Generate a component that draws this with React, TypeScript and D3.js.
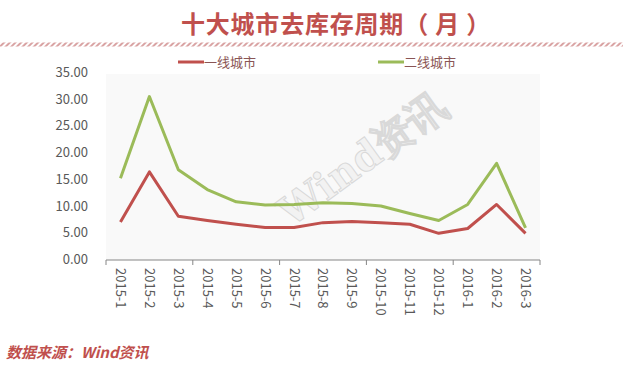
import React, { useRef, useEffect } from "react";
import * as d3 from "d3";

// data
const months = [
  "2015-1", "2015-2", "2015-3", "2015-4", "2015-5", "2015-6", "2015-7",
  "2015-8", "2015-9", "2015-10", "2015-11", "2015-12", "2016-1", "2016-2", "2016-3",
];
const tier1 = [7.0, 16.4, 8.1, 7.3, 6.6, 6.0, 6.0, 6.9, 7.1, 6.9, 6.6, 4.9, 5.8, 10.3, 4.9];
const tier2 = [15.2, 30.5, 16.8, 13.1, 10.8, 10.2, 10.3, 10.6, 10.5, 10.0, 8.6, 7.3, 10.3, 18.0, 5.9];
const yTicks = [0, 5, 10, 15, 20, 25, 30, 35];
const seriesNames = ["一线城市", "二线城市"];
const colors = ["#c0504d", "#9bbb59"];

const W = 623;
const H = 369;
const font = "'Noto Sans CJK SC', 'Noto Sans', sans-serif";

function Chart() {
  const svgRef = useRef<SVGSVGElement>(null);

  useEffect(() => {
    const svg = d3.select(svgRef.current);
    svg.selectAll("*").remove();

    // scales
    const x = d3.scaleBand().domain(months).range([106, 540]);
    const y = d3.scaleLinear().domain([0, 35]).range([259.5, 72.5]);

    // hatch pattern for the title rule
    const defs = svg.append("defs");
    const pat = defs
      .append("pattern")
      .attr("id", "hatch")
      .attr("width", 4)
      .attr("height", 4)
      .attr("patternUnits", "userSpaceOnUse")
      .attr("patternTransform", "rotate(45)");
    pat.append("rect").attr("width", 2).attr("height", 4).attr("fill", "#d9a3a3");

    // title
    svg
      .append("text")
      .attr("x", 336)
      .attr("y", 33)
      .attr("text-anchor", "middle")
      .attr("font-family", font)
      .attr("font-size", 24)
      .attr("font-weight", "bold")
      .attr("letter-spacing", 0.8)
      .attr("fill", "#c0504d")
      .text("十大城市去库存周期（ 月 ）");

    svg.append("rect").attr("x", 0).attr("y", 42.5).attr("width", W).attr("height", 4).attr("fill", "url(#hatch)");

    // legend
    const legendX = [178, 378];
    seriesNames.forEach((name, i) => {
      svg
        .append("line")
        .attr("x1", legendX[i])
        .attr("x2", legendX[i] + 26)
        .attr("y1", 62)
        .attr("y2", 62)
        .attr("stroke", colors[i])
        .attr("stroke-width", 3);
      svg
        .append("text")
        .attr("x", legendX[i] + 26)
        .attr("y", 66.5)
        .attr("font-family", font)
        .attr("font-size", 13)
        .attr("fill", "#8a5555")
        .text(name);
    });

    // plot background
    svg
      .append("rect")
      .attr("x", 106)
      .attr("y", 74)
      .attr("width", 434)
      .attr("height", 186)
      .attr("fill", "#f9f9f9");

    // watermark
    const wm = svg
      .append("text")
      .attr("transform", "translate(362,158) rotate(-36)")
      .attr("text-anchor", "middle")
      .attr("dominant-baseline", "central")
      .attr("font-family", "'DejaVu Serif', serif")
      .attr("font-size", 40)
      .attr("font-weight", "bold")
      .attr("fill", "#f2f2f2")
      .attr("stroke", "#d9d9d9")
      .attr("stroke-width", 1)
      .text("Wind资讯");
    wm.clone(true).attr("transform", "translate(364,160) rotate(-36)").attr("fill", "none").attr("stroke", "#e8e8e8").lower();

    // y axis labels
    svg
      .selectAll(".ylab")
      .data(yTicks)
      .join("text")
      .attr("class", "ylab")
      .attr("x", 88)
      .attr("y", (d) => y(d))
      .attr("dy", "0.35em")
      .attr("text-anchor", "end")
      .attr("font-family", font)
      .attr("font-size", 13)
      .attr("fill", "#595959")
      .text((d) => d.toFixed(2));

    // x axis
    svg
      .append("line")
      .attr("x1", 106)
      .attr("x2", 540)
      .attr("y1", 260)
      .attr("y2", 260)
      .attr("stroke", "#868686");
    const bw = x.bandwidth();
    const tickIdx = d3.range(0, months.length + 1, 3);
    svg
      .selectAll(".xtick")
      .data(tickIdx)
      .join("line")
      .attr("x1", (i) => 106 + i * bw)
      .attr("x2", (i) => 106 + i * bw)
      .attr("y1", 260)
      .attr("y2", 265)
      .attr("stroke", "#868686");

    svg
      .selectAll(".xlab")
      .data(months)
      .join("text")
      .attr("class", "xlab")
      .attr("transform", (d) => `translate(${x(d)! + bw / 2},268) rotate(90)`)
      .attr("dy", "0.35em")
      .attr("font-family", font)
      .attr("font-size", 13)
      .attr("fill", "#595959")
      .text((d) => d);

    // lines
    const gen = d3
      .line<number>()
      .x((_, i) => x(months[i])! + bw / 2)
      .y((d) => y(d));
    [tier1, tier2].forEach((s, i) => {
      svg
        .append("path")
        .attr("d", gen(s))
        .attr("fill", "none")
        .attr("stroke", colors[i])
        .attr("stroke-width", 3)
        .attr("stroke-linejoin", "round");
    });

    // footer
    svg
      .append("text")
      .attr("x", 6)
      .attr("y", 358)
      .attr("font-family", font)
      .attr("font-size", 15)
      .attr("font-weight", "bold")
      .attr("font-style", "italic")
      .attr("fill", "#c0504d")
      .text("数据来源：Wind资讯");
  }, []);

  return <svg ref={svgRef} width={W} height={H} style={{ position: "fixed", left: 0, top: 0, background: "#fff" }} />;
}

export default function App() {
  return <Chart />;
}
